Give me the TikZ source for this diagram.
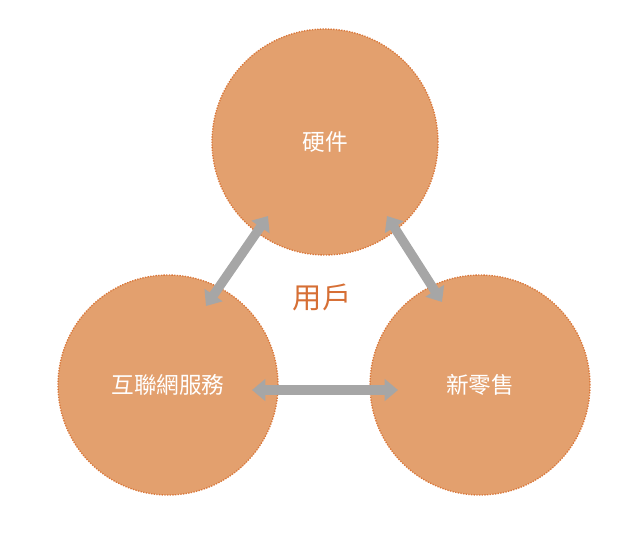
\documentclass[tikz,border=0pt]{standalone}
\usepackage{fontspec}
\newfontfamily\cjk{Noto Sans CJK TC}
\usetikzlibrary{arrows.meta}
\definecolor{fillc}{HTML}{E3A06E}
\definecolor{edgec}{HTML}{D9773A}
\definecolor{arr}{HTML}{A6A6A6}
\definecolor{userc}{HTML}{D66F35}
\begin{document}
\begin{tikzpicture}[x=0.75pt,y=-0.75pt,
  ball/.style={circle,fill=fillc,draw=edgec,densely dotted,line width=1pt,minimum size=#1*0.75pt,inner sep=0pt,text=white,font=\cjk\fontsize{17}{20}\selectfont},
  link/.style={arr,line width=7pt,{Triangle[length=10pt,width=16pt]}-{Triangle[length=10pt,width=16pt]}}]
\useasboundingbox (0,0) rectangle (640,536);
\node[ball=226] (hw) at (325,142) {硬件};
\node[ball=220] (net) at (168,385) {互聯網服務};
\node[ball=220] (ret) at (480,385) {新零售};
\node[text=userc,font=\cjk\fontsize{22}{26}\selectfont] (u) at (322,297) {用戶};
\coordinate (a1) at (268,216); \coordinate (a2) at (206,306);
\coordinate (b1) at (387,216); \coordinate (b2) at (442,302);
\coordinate (c1) at (252,390); \coordinate (c2) at (398,390);
\draw[link] (a1) -- (a2);
\draw[link] (b1) -- (b2);
\draw[link] (c1) -- (c2);
\end{tikzpicture}
\end{document}
